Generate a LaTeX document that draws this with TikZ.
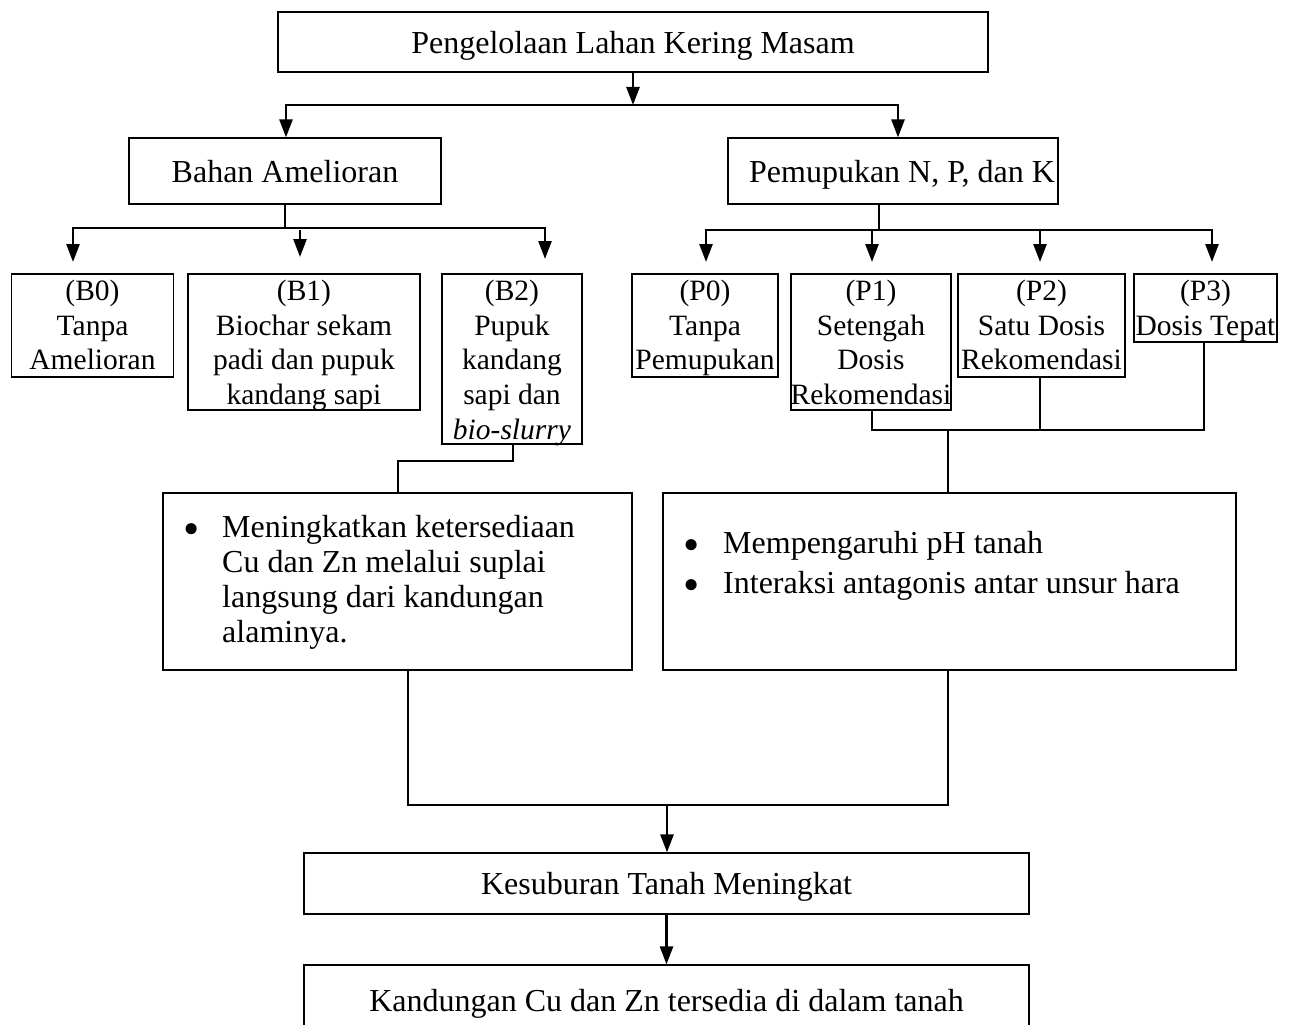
\documentclass[tikz,border=0pt]{standalone}
\usepackage{fontspec}
\setmainfont{Liberation Serif}
\usetikzlibrary{arrows.meta}
\newcommand\bigbul{\smash{\raisebox{-7pt}{\scalebox{1.45}{•}}}}
\begin{document}
\begin{tikzpicture}[x=1pt,y=-1pt,
  box/.style={draw, line width=1.2pt, inner sep=0pt, align=center, font=\fontsize{32}{35}\selectfont,
              execute at begin node=\rule{0pt}{29pt}, execute at end node=\rule[-6pt]{0pt}{6pt}},
  cbox/.style={draw, line width=1.2pt, inner sep=0pt},
  lbl/.style={anchor=north, inner sep=0pt, align=center, font=\fontsize{29.5}{34.7}\selectfont,
              yshift=-6.5pt},
  conn/.style={line width=2.6pt, line cap=rect},
  thinconn/.style={line width=2pt, line cap=rect},
  arr/.style={line width=2.6pt, -{Triangle[width=13pt,length=18pt]}},
  bul/.style={inner sep=0pt, anchor=north west}]
\useasboundingbox (0,0) rectangle (1294,1025);
\clip (0,0) rectangle (1294,1025);
% boxes
\node[box, minimum width=710pt, minimum height=60pt] (top) at (633,42) {Pengelolaan Lahan Kering Masam};
\node[box, minimum width=312pt, minimum height=66pt] (bahan) at (285,171) {Bahan Amelioran};
\node[box, minimum width=330pt, minimum height=66pt] (pemup) at (893,171) {\hspace*{18pt}Pemupukan N, P, dan K};
\node[cbox, minimum width=162pt, minimum height=103pt, label={[lbl]north:{(B0)\\Tanpa\\Amelioran}}] (B0) at (92.5,325.5) {};
\node[cbox, minimum width=232pt, minimum height=136pt, label={[lbl]north:{(B1)\\Biochar sekam\\padi dan pupuk\\kandang sapi}}] (B1) at (304,342) {};
\node[cbox, minimum width=140pt, minimum height=170pt, label={[lbl]north:{(B2)\\Pupuk\\kandang\\sapi dan\\\textit{bio-slurry}}}] (B2) at (512,359) {};
\node[cbox, minimum width=146pt, minimum height=103pt, label={[lbl]north:{(P0)\\Tanpa\\Pemupukan}}] (P0) at (705,325.5) {};
\node[cbox, minimum width=160pt, minimum height=136pt, label={[lbl]north:{(P1)\\Setengah\\Dosis\\Rekomendasi}}] (P1) at (871,342) {};
\node[cbox, minimum width=167pt, minimum height=103pt, label={[lbl]north:{(P2)\\Satu Dosis\\Rekomendasi}}] (P2) at (1041.5,325.5) {};
\node[cbox, minimum width=143pt, minimum height=68pt, label={[lbl]north:{(P3)\\Dosis Tepat}}] (P3) at (1205.5,308) {};
\node[cbox, minimum width=469pt, minimum height=177pt] (L) at (397.5,581.5) {};
\node[cbox, minimum width=573pt, minimum height=177pt] (R) at (949.5,581.5) {};
\node[box, minimum width=725pt, minimum height=61pt] (K) at (666.5,883.5) {Kesuburan Tanah Meningkat};
\node[box, minimum width=725pt, minimum height=70pt] (Z) at (666.5,1000) {Kandungan Cu dan Zn tersedia di dalam tanah};
% bullet texts
\node[bul, font=\fontsize{32}{35}\selectfont] (Ltxt) at (183,512.5)
  {\begin{tabular}{@{}p{39pt}@{}l@{}}
   \bigbul&Meningkatkan ketersediaan\\
   &Cu dan Zn melalui suplai\\
   &langsung dari kandungan\\
   &alaminya.
   \end{tabular}};
\node[bul, font=\fontsize{32}{40}\selectfont] (Rtxt) at (683,525)
  {\begin{tabular}{@{}p{40pt}@{}l@{}}
   \bigbul&Mempengaruhi pH tanah\\
   \bigbul&Interaksi antagonis antar unsur hara
   \end{tabular}};
% top connectors
\coordinate (j1) at (633,105);
\coordinate (jL) at (286,105);
\coordinate (jR) at (898,105);
\draw[arr] (top) -- (j1);
\draw[conn] (jL) -- (jR);
\draw[arr] (jL) -- (bahan.north -| jL);
\draw[arr] (jR) -- (pemup.north -| jR);
% Bahan branches
\coordinate (bm) at (285,228);
\coordinate (b0) at (73,228);
\coordinate (b2) at (545,228);
\coordinate (b1s) at (300,230);
\coordinate (t0) at (73,262);
\coordinate (t1) at (300,257);
\coordinate (t2) at (545,259);
\draw[conn] (bahan.south) -- (bm);
\draw[conn] (b0) -- (b2);
\draw[arr] (b0) -- (t0);
\draw[arr] (b1s) -- (t1);
\draw[arr] (b2) -- (t2);
% Pemupukan branches
\coordinate (pm) at (879,230);
\coordinate (p0) at (706,230);
\coordinate (p1) at (872,230);
\coordinate (p2) at (1040,230);
\coordinate (p3) at (1212,230);
\coordinate (q0) at (706,262);
\coordinate (q1) at (872,262);
\coordinate (q2) at (1040,262);
\coordinate (q3) at (1212,262);
\draw[conn] (pemup.south -| pm) -- (pm);
\draw[conn] (p0) -- (p3);
\draw[arr] (p0) -- (q0);
\draw[arr] (p1) -- (q1);
\draw[arr] (p2) -- (q2);
\draw[arr] (p3) -- (q3);
% P boxes to right box
\coordinate (r1) at (872,430);
\coordinate (r2) at (1040,430);
\coordinate (r3) at (1204,430);
\coordinate (rm) at (948,430);
\draw[thinconn] (P1.south -| r1) -- (r1) -- (r3) -- (P3.south -| r3);
\draw[thinconn] (P2.south -| r2) -- (r2);
\draw[thinconn] (rm) -- (R.north -| rm);
% B2 to left box
\coordinate (s1) at (513,461);
\coordinate (s2) at (398,461);
\draw[thinconn] (B2.south -| s1) -- (s1) -- (s2) -- (L.north -| s2);
% to Kesuburan
\coordinate (u1) at (408,805);
\coordinate (u2) at (948,805);
\coordinate (um) at (667,805);
\draw[thinconn] (L.south -| u1) -- (u1) -- (u2) -- (R.south -| u2);
\draw[arr] (um) -- (K.north -| um);
\draw[arr] (K) -- (Z);
\end{tikzpicture}
\end{document}
